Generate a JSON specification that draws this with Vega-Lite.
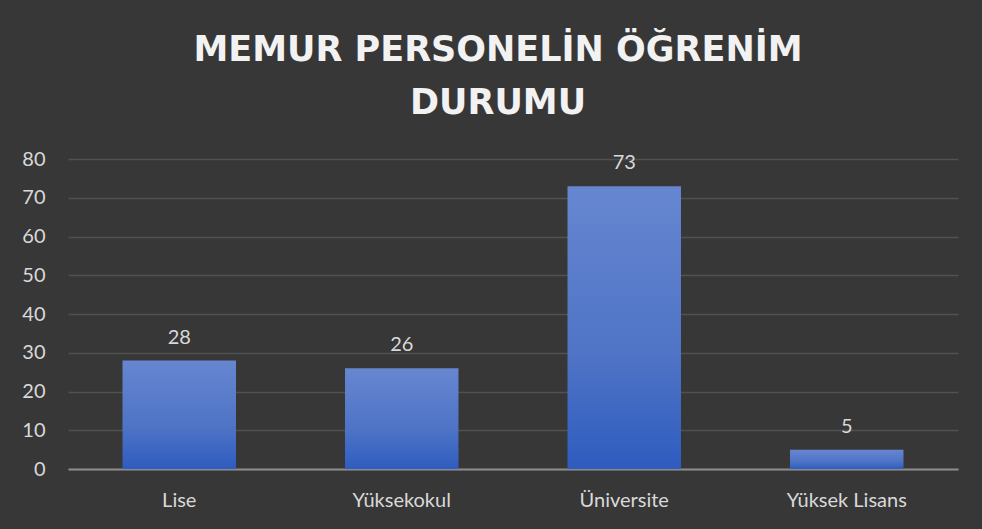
{
  "$schema": "https://vega.github.io/schema/vega-lite/v6.json",
  "width": 890,
  "height": 310,
  "autosize": {"type": "none"},
  "padding": {"left": 68, "top": 159, "right": 24, "bottom": 60},
  "background": "#373737",
  "title": {
    "text": ["MEMUR PERSONELİN ÖĞRENİM", "DURUMU"],
    "font": "DejaVu Sans",
    "fontWeight": "bold",
    "fontSize": 35,
    "color": "#f2f2f2",
    "lineHeight": 53,
    "anchor": "middle",
    "dx": -15,
    "offset": 28
  },
  "data": {
    "values": [
      {"kategori": "Lise", "sayi": 28},
      {"kategori": "Yüksekokul", "sayi": 26},
      {"kategori": "Üniversite", "sayi": 73},
      {"kategori": "Yüksek Lisans", "sayi": 5}
    ]
  },
  "config": {
    "view": {"stroke": null},
    "axis": {
      "labelFont": "Lato",
      "labelFontSize": 20,
      "labelColor": "#d9d9d9",
      "ticks": false,
      "title": null
    }
  },
  "encoding": {
    "x": {
      "field": "kategori",
      "type": "nominal",
      "sort": null,
      "scale": {"paddingInner": 0.49, "paddingOuter": 0.245},
      "axis": {
        "labelAngle": 0,
        "labelPadding": 21,
        "domainColor": "#8c8c8c",
        "domainWidth": 2,
        "grid": false
      }
    },
    "y": {
      "field": "sayi",
      "type": "quantitative",
      "scale": {"domain": [0, 80], "nice": false},
      "axis": {
        "values": [0, 10, 20, 30, 40, 50, 60, 70, 80],
        "labelPadding": 23,
        "domain": false,
        "grid": true,
        "gridColor": "#515151",
        "gridWidth": 1.5
      }
    }
  },
  "layer": [
    {
      "mark": {
        "type": "bar",
        "color": {
          "gradient": "linear",
          "x1": 0, "y1": 0, "x2": 0, "y2": 1,
          "stops": [
            {"offset": 0, "color": "#6686d0"},
            {"offset": 0.6, "color": "#4f74c6"},
            {"offset": 1, "color": "#2e5cbf"}
          ]
        }
      }
    },
    {
      "mark": {
        "type": "text",
        "font": "Lato",
        "fontSize": 20,
        "color": "#d9d9d9",
        "baseline": "alphabetic",
        "dy": -17
      },
      "encoding": {"text": {"field": "sayi", "type": "quantitative"}}
    }
  ]
}
